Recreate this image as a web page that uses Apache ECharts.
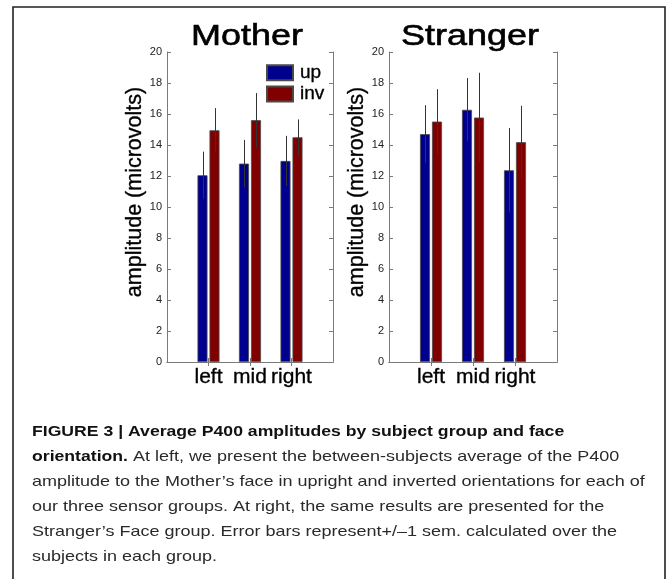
<!DOCTYPE html>
<html>
<head>
<meta charset="utf-8">
<script src="https://cdn.jsdelivr.net/npm/echarts@6/dist/echarts.min.js"></script>
<style>
html,body{margin:0;padding:0;background:#fff;}
#chart{width:671px;height:579px;}
</style>
</head>
<body>
<div id="chart"></div>
<script>
// ---- data ----
const categories = ['left', 'mid', 'right'];
const seriesNames = ['up', 'inv'];
const panelTitles = ['Mother', 'Stranger'];
const motherUp = [12.05, 12.8, 12.97];
const motherInv = [14.95, 15.6, 14.5];
const motherUpSem = [1.52, 1.53, 1.62];
const motherInvSem = [1.43, 1.75, 1.15];
const strangerUp = [14.7, 16.27, 12.37];
const strangerInv = [15.51, 15.77, 14.18];
const strangerUpSem = [1.87, 2.05, 2.73];
const strangerInvSem = [2.09, 2.89, 2.35];
const yMin = 0, yMax = 20, yStep = 2;
const yAxisTitle = 'amplitude (microvolts)';
const captionLines = [
  '{b|FIGURE 3 | Average P400 amplitudes by subject group and face}',
  '{b|orientation.} At left, we present the between-subjects average of the P400',
  'amplitude to the Mother\u2019s face in upright and inverted orientations for each of',
  'our three sensor groups. At right, the same results are presented for the',
  'Stranger\u2019s Face group. Error bars represent+/\u20131 sem. calculated over the',
  'subjects in each group.'
];

// ---- build ----
const FONT = 'Liberation Sans, Arial, Helvetica, sans-serif';
const colors = ['#00008f', '#800000'];
const axisGray = '#7a7a7a';
// categories padded so that the x range runs 0..4 like the original
const paddedCats = [''].concat(categories, ['']);
const pad = arr => [null].concat(arr, [null]);
const errData = (vals, sems) => vals.map((v, i) => [i + 1, v - sems[i], v + sems[i]]);

const grids = [
  {left: 167, top: 52, width: 166, height: 310},
  {left: 389, top: 52, width: 168, height: 310}
];

const xAxes = [], yAxes = [];
grids.forEach((g, gi) => {
  const base = {
    type: 'category', data: paddedCats, gridIndex: gi, boundaryGap: false,
    axisLine: {lineStyle: {color: axisGray, width: 1}},
    axisTick: {inside: true, length: 4, lineStyle: {color: axisGray},
      interval: (i) => i >= 1 && i <= categories.length},
    splitLine: {show: false}
  };
  xAxes.push(Object.assign({}, base, {position: 'bottom',
    axisLabel: {color: '#000', fontSize: 21, fontFamily: FONT, margin: 5, interval: 0,
      textBorderColor: '#000', textBorderWidth: 0.35}}));
  xAxes.push(Object.assign({}, base, {position: 'top', axisLabel: {show: false}}));
  const ybase = {
    type: 'value', gridIndex: gi, min: yMin, max: yMax, interval: yStep,
    axisLine: {show: true, lineStyle: {color: axisGray, width: 1}},
    axisTick: {show: true, inside: true, length: 4, lineStyle: {color: axisGray}},
    splitLine: {show: false}
  };
  yAxes.push(Object.assign({}, ybase, {position: 'left',
    axisLabel: {color: '#222', fontSize: 11, fontFamily: FONT, margin: 5}}));
  yAxes.push(Object.assign({}, ybase, {position: 'right', axisLabel: {show: false}}));
});

function barSeries(name, data, gi, color) {
  return {
    type: 'bar', name: name, data: pad(data),
    xAxisIndex: gi * 2, yAxisIndex: gi * 2,
    barWidth: 10, barGap: '20%',
    itemStyle: {color: color, borderColor: '#4a4a4a', borderWidth: 0.8},
    emphasis: {disabled: true}, z: 2
  };
}
function errSeries(name, data, gi, offset) {
  return {
    type: 'custom', name: name, data: data,
    xAxisIndex: gi * 2, yAxisIndex: gi * 2,
    encode: {x: 0, y: [1, 2]}, z: 5, silent: true,
    renderItem: function (params, api) {
      const p1 = api.coord([api.value(0), api.value(1)]);
      const p2 = api.coord([api.value(0), api.value(2)]);
      const x = Math.round(p1[0] + offset) + 0.5;
      return {type: 'line', shape: {x1: x, y1: p1[1], x2: x, y2: p2[1]},
        style: {stroke: '#333', lineWidth: 1}};
    }
  };
}

const series = [
  barSeries(seriesNames[0], motherUp, 0, colors[0]),
  barSeries(seriesNames[1], motherInv, 0, colors[1]),
  errSeries(seriesNames[0], errData(motherUp, motherUpSem), 0, -6),
  errSeries(seriesNames[1], errData(motherInv, motherInvSem), 0, 6),
  barSeries(seriesNames[0], strangerUp, 1, colors[0]),
  barSeries(seriesNames[1], strangerInv, 1, colors[1]),
  errSeries(seriesNames[0], errData(strangerUp, strangerUpSem), 1, -6),
  errSeries(seriesNames[1], errData(strangerInv, strangerInvSem), 1, 6)
];

const graphics = [];
// outer frame (left, top, right)
graphics.push({type: 'polyline', silent: true,
  shape: {points: [[13, 600], [13, 7], [665, 7], [665, 600]]},
  style: {stroke: '#222', lineWidth: 1.6, fill: null}});
// panel titles
panelTitles.forEach((t, i) => {
  const g = grids[i];
  graphics.push({type: 'text', x: g.left + g.width / 2 - 3, y: 37, scaleX: 1.2, silent: true,
    style: {text: t, x: 0, y: 0, align: 'center', verticalAlign: 'middle',
      font: 'normal 30px ' + FONT, fill: '#000', stroke: '#000', lineWidth: 0.6}});
});
// y axis titles
[135, 357].forEach((cx) => {
  graphics.push({type: 'text', x: cx, y: 192, rotation: Math.PI / 2, silent: true,
    style: {text: yAxisTitle, x: 0, y: 0, align: 'center', verticalAlign: 'middle',
      font: 'normal 21.5px ' + FONT, fill: '#000', stroke: '#000', lineWidth: 0.35}});
});
// caption
captionLines.forEach((line, i) => {
  graphics.push({type: 'text', x: 32, y: 432 + i * 25, scaleX: 1.2, silent: true,
    style: {text: line, x: 0, y: 0, align: 'left', verticalAlign: 'middle',
      font: 'normal 15px ' + FONT, fill: '#2a2a2a',
      rich: {b: {fontWeight: 'bold', fontSize: 14.7, fontFamily: FONT, fill: '#111'}}}});
});

const chart = echarts.init(document.getElementById('chart'), null, {renderer: 'canvas'});
chart.setOption({
  backgroundColor: '#fff',
  animation: false,
  textStyle: {fontFamily: FONT},
  color: colors,
  grid: grids,
  xAxis: xAxes,
  yAxis: yAxes,
  legend: {
    data: seriesNames, orient: 'vertical', left: 266, top: 63, padding: 0,
    itemWidth: 26, itemHeight: 15, itemGap: 2, icon: 'rect',
    selectedMode: false,
    textStyle: {fontSize: 19, lineHeight: 16, color: '#000', fontFamily: FONT, padding: [0, 0, 0, 2],
      textBorderColor: '#000', textBorderWidth: 0.35}
  },
  series: series,
  graphic: graphics
});
</script>
</body>
</html>
